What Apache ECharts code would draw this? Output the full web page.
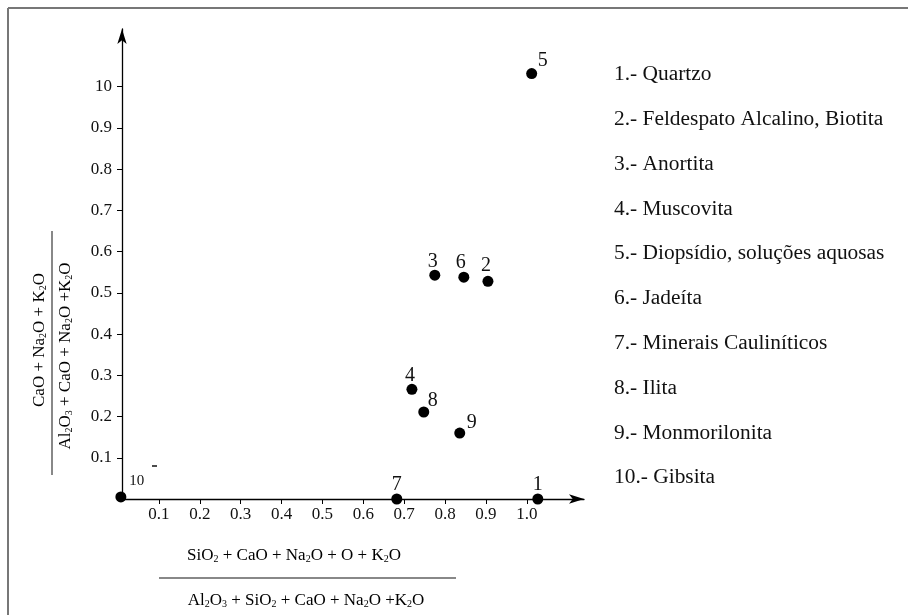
<!DOCTYPE html>
<html lang="pt">
<head>
<meta charset="UTF-8">
<title>Diagrama</title>
<script src="https://cdn.jsdelivr.net/npm/echarts@6/dist/echarts.min.js"></script>
<style>
    html, body { margin: 0; padding: 0; background: #fff; }
    #main { width: 908px; height: 615px; }
</style>
</head>
<body>
<div id="main"></div>
<script>
// pontos (numero do mineral, x, y)
var pointIds = ['1', '2', '3', '4', '5', '6', '7', '8', '9', '10'];
var xValues = [1.027, 0.905, 0.775, 0.719, 1.012, 0.846, 0.682, 0.748, 0.836, 0.007];
var yValues = [0, 0.528, 0.543, 0.266, 1.032, 0.538, 0, 0.211, 0.160, 0.005];

var mineralNames = [
    '1.- Quartzo',
    '2.- Feldespato Alcalino, Biotita',
    '3.- Anortita',
    '4.- Muscovita',
    '5.- Diopsídio, soluções aquosas',
    '6.- Jadeíta',
    '7.- Minerais Cauliníticos',
    '8.- Ilita',
    '9.- Monmorilonita',
    '10.- Gibsita'
];

var tickValues = [0.1, 0.2, 0.3, 0.4, 0.5, 0.6, 0.7, 0.8, 0.9, 1.0];
var xTickLabels = ['0.1', '0.2', '0.3', '0.4', '0.5', '0.6', '0.7', '0.8', '0.9', '1.0'];
var yTickLabels = ['0.1', '0.2', '0.3', '0.4', '0.5', '0.6', '0.7', '0.8', '0.9', '10'];

// deslocamento dos numeros em relacao ao ponto
var labelOffsets = [[0, -14], [-2, -16], [-2, -13], [-2, -14], [11, -13], [-3, -14], [0, -14], [9, -11], [12, -10], [16, -16]];

var font = 'Liberation Serif';
var myChart = echarts.init(document.getElementById('main'));

function tickLabel(list) {
    return function (v) {
        for (var i = 0; i < tickValues.length; i++) {
            if (Math.abs(v - tickValues[i]) < 1e-6) return list[i];
        }
        return '';
    };
}

var points = [];
for (var i = 0; i < pointIds.length; i++) {
    points.push({
        value: [xValues[i], yValues[i]],
        label: {
            show: true,
            formatter: pointIds[i],
            position: 'inside',
            offset: labelOffsets[i],
            fontSize: i === 9 ? 15 : 20
        }
    });
}

var sub = { fontSize: 10, fontFamily: font, color: '#111', verticalAlign: 'bottom', padding: [5, 0, 0, 0] };
var nrm = { fontSize: 17, fontFamily: font, color: '#111' };
function formula(parts) {
    // parts alternam texto normal / subscrito
    var s = '';
    for (var k = 0; k < parts.length; k++) {
        if (parts[k] === '') continue;
        s += '{' + (k % 2 ? 's' : 'n') + '|' + parts[k] + '}';
    }
    return s;
}

var graphics = [
    { type: 'line', shape: { x1: 8, y1: 8, x2: 908, y2: 8 }, style: { stroke: '#777', lineWidth: 2 } },
    { type: 'line', shape: { x1: 8, y1: 8, x2: 8, y2: 615 }, style: { stroke: '#777', lineWidth: 2 } },
    // titulo eixo x
    { type: 'text', x: 294, y: 556, style: { text: formula(['SiO', '2', ' + CaO + Na', '2', 'O + O + K', '2', 'O']), rich: { n: nrm, s: sub }, align: 'center', verticalAlign: 'middle' } },
    { type: 'line', shape: { x1: 159, y1: 578, x2: 456, y2: 578 }, style: { stroke: '#888', lineWidth: 2 } },
    { type: 'text', x: 306, y: 601, style: { text: formula(['Al', '2', 'O', '3', ' + SiO', '2', ' + CaO + Na', '2', 'O +K', '2', 'O']), rich: { n: nrm, s: sub }, align: 'center', verticalAlign: 'middle' } },
    // titulo eixo y
    { type: 'text', x: 40, y: 340, rotation: Math.PI / 2, style: { text: formula(['CaO + Na', '2', 'O + K', '2', 'O']), rich: { n: nrm, s: sub }, align: 'center', verticalAlign: 'middle' } },
    { type: 'line', shape: { x1: 52, y1: 231, x2: 52, y2: 475 }, style: { stroke: '#888', lineWidth: 2 } },
    { type: 'text', x: 66, y: 356, rotation: Math.PI / 2, style: { text: formula(['Al', '2', 'O', '3', ' + CaO + Na', '2', 'O +K', '2', 'O']), rich: { n: nrm, s: sub }, align: 'center', verticalAlign: 'middle' } },
    { type: 'line', shape: { x1: 152, y1: 466, x2: 157, y2: 466 }, style: { stroke: '#111', lineWidth: 1.5 } }
];
for (var j = 0; j < mineralNames.length; j++) {
    graphics.push({
        type: 'text', x: 614, y: 75 + j * 44.8, scaleX: 1.07,
        style: { text: mineralNames[j], fontSize: 20, fontFamily: font, fill: '#111', verticalAlign: 'middle' }
    });
}

myChart.setOption({
    backgroundColor: '#fff',
    animation: false,
    textStyle: { fontFamily: font },
    grid: { left: 118, top: 29, width: 466, height: 470 },
    xAxis: {
        type: 'value',
        min: 0,
        max: 1.14,
        splitLine: { show: false },
        axisLine: { onZero: false, lineStyle: { color: '#000', width: 1.3 }, symbol: ['none', 'arrow'], symbolSize: [7, 15] },
        axisTick: { customValues: tickValues, length: 5, lineStyle: { color: '#000' } },
        axisLabel: { customValues: tickValues, formatter: tickLabel(xTickLabels), color: '#111', fontSize: 17, fontFamily: font, margin: 7 }
    },
    yAxis: {
        type: 'value',
        min: 0,
        max: 1.14,
        offset: -4,
        splitLine: { show: false },
        axisLine: { onZero: false, lineStyle: { color: '#000', width: 1.3 }, symbol: ['none', 'arrow'], symbolSize: [7, 15] },
        axisTick: { customValues: tickValues, length: 5, lineStyle: { color: '#000' } },
        axisLabel: { customValues: tickValues, formatter: tickLabel(yTickLabels), color: '#111', fontSize: 17, fontFamily: font, margin: 10 }
    },
    series: [{
        type: 'scatter',
        symbol: 'circle',
        symbolSize: 11,
        clip: false,
        itemStyle: { color: '#000', opacity: 1 },
        label: { color: '#111', fontFamily: font },
        data: points
    }],
    graphic: graphics
});
</script>
</body>
</html>
